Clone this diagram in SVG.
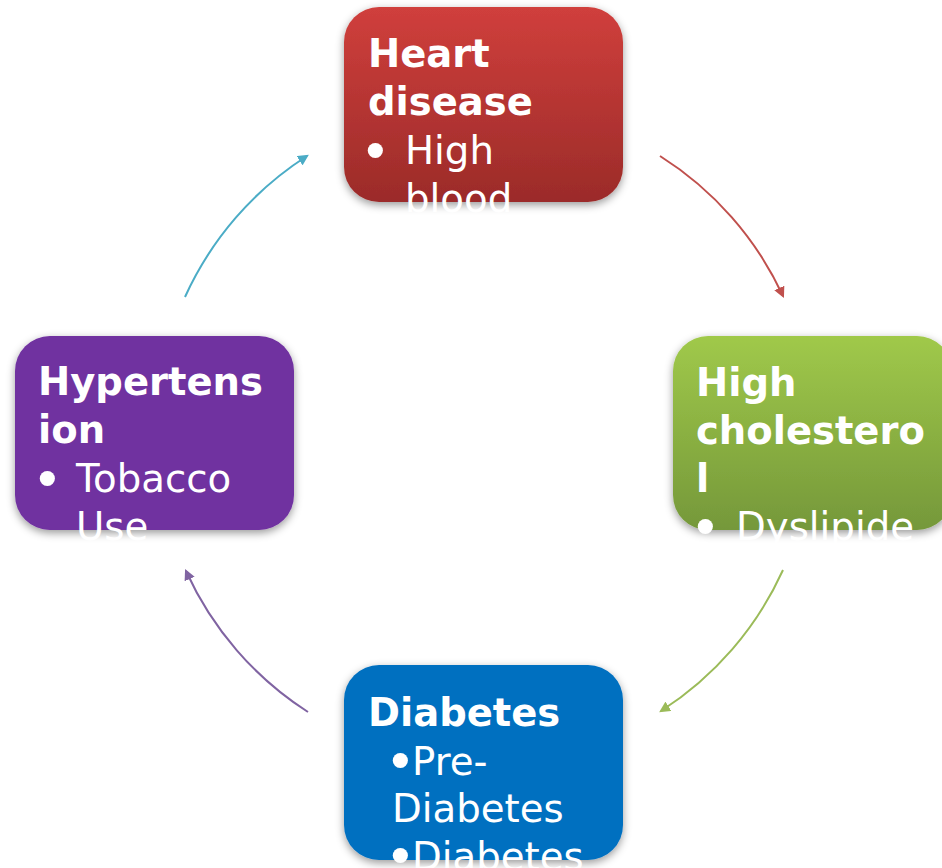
<svg xmlns="http://www.w3.org/2000/svg" width="942" height="868" viewBox="0 0 942 868">
  <style>
    .box { filter: url(#shadow); }
    .title { font-family: "DejaVu Sans", Verdana, sans-serif; font-weight: bold; font-size: 38.5px; fill: #ffffff; }
    .item { font-family: "DejaVu Sans", Verdana, sans-serif; font-size: 38.7px; fill: #ffffff; }
    .dot { font-family: "DejaVu Sans", Verdana, sans-serif; font-size: 52px; fill: #ffffff; }
    .arc { fill: none; stroke-width: 2; }
  </style>
  <defs>
    <filter id="shadow" x="-20%" y="-20%" width="140%" height="150%">
      <feDropShadow dx="0" dy="3" stdDeviation="4" flood-color="#000000" flood-opacity="0.4"/>
    </filter>
    <linearGradient id="gRed" x1="0" y1="0" x2="0" y2="1">
      <stop offset="0" stop-color="#D03F3C"/>
      <stop offset="1" stop-color="#9B2B29"/>
    </linearGradient>
    <linearGradient id="gGreen" x1="0" y1="0" x2="0" y2="1">
      <stop offset="0" stop-color="#A0C94A"/>
      <stop offset="1" stop-color="#75983A"/>
    </linearGradient>
    <marker id="mTeal" viewBox="0 0 10 10" refX="8" refY="5" markerWidth="11" markerHeight="11" markerUnits="userSpaceOnUse" orient="auto">
      <path d="M0,0 L10,5 L0,10 z" fill="#4BACC6"/>
    </marker>
    <marker id="mRed" viewBox="0 0 10 10" refX="8" refY="5" markerWidth="11" markerHeight="11" markerUnits="userSpaceOnUse" orient="auto">
      <path d="M0,0 L10,5 L0,10 z" fill="#C0504D"/>
    </marker>
    <marker id="mGreen" viewBox="0 0 10 10" refX="8" refY="5" markerWidth="11" markerHeight="11" markerUnits="userSpaceOnUse" orient="auto">
      <path d="M0,0 L10,5 L0,10 z" fill="#9BBB59"/>
    </marker>
    <marker id="mPurple" viewBox="0 0 10 10" refX="8" refY="5" markerWidth="11" markerHeight="11" markerUnits="userSpaceOnUse" orient="auto">
      <path d="M0,0 L10,5 L0,10 z" fill="#8064A2"/>
    </marker>
  </defs>

  <rect width="942" height="868" fill="#ffffff"/>

  <!-- circular connectors around the cycle -->
  <g id="connectors">
    <path class="arc" stroke="#C0504D" marker-end="url(#mRed)" d="M660,156 A329,329 0 0 1 783,296"/>
    <path class="arc" stroke="#9BBB59" marker-end="url(#mGreen)" d="M783,570 A329,329 0 0 1 661,711"/>
    <path class="arc" stroke="#8064A2" marker-end="url(#mPurple)" d="M308,712 A329,329 0 0 1 186,571"/>
    <path class="arc" stroke="#4BACC6" marker-end="url(#mTeal)" d="M185,297 A329,329 0 0 1 307,156"/>
  </g>

  <g id="heart-disease">
    <rect class="box" x="344" y="7" width="279" height="195" rx="35" fill="url(#gRed)"/>
    <text class="title" x="368" y="67">Heart</text>
    <text class="title" x="368" y="115">disease</text>
    <text class="dot" x="360" y="170">•</text>
    <text class="item" x="405" y="164">High</text>
    <text class="item" x="405" y="212">blood</text>
  </g>

  <g id="high-cholesterol">
    <rect class="box" x="673" y="336" width="279" height="194" rx="35" fill="url(#gGreen)"/>
    <text class="title" x="696" y="396">High</text>
    <text class="title" x="696" y="444">cholestero</text>
    <text class="title" x="696" y="492">l</text>
    <text class="dot" x="690" y="546">•</text>
    <text class="item" x="736" y="540">Dyslipide</text>
  </g>

  <g id="diabetes">
    <rect class="box" x="344" y="665" width="279" height="195" rx="35" fill="#0070C0"/>
    <text class="title" x="368" y="726">Diabetes</text>
    <text class="dot" x="385" y="780">•</text>
    <text class="item" x="412" y="775">Pre-</text>
    <text class="item" x="392" y="822">Diabetes</text>
    <text class="dot" x="385" y="875">•</text>
    <text class="item" x="412" y="870">Diabetes</text>
  </g>

  <g id="hypertension">
    <rect class="box" x="15" y="336" width="279" height="194" rx="35" fill="#7030A0"/>
    <text class="title" x="38" y="395">Hypertens</text>
    <text class="title" x="38" y="443">ion</text>
    <text class="dot" x="32" y="498">•</text>
    <text class="item" x="76" y="492">Tobacco</text>
    <text class="item" x="76" y="540">Use</text>
  </g>
</svg>
